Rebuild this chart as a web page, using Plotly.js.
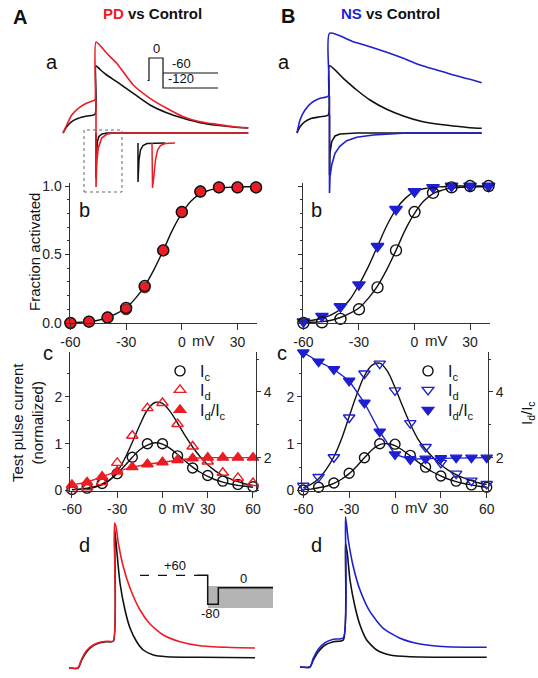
<!DOCTYPE html>
<html><head><meta charset="utf-8">
<script src="https://cdn.plot.ly/plotly-3.0.1.min.js"></script>
<style>html,body{margin:0;padding:0;background:#fff}#chart{width:538px;height:678px}</style>
</head><body><div id="chart"></div>
<script>
// ================= DATA =================
// Panel a (A): tail currents, time (ms, a.u.) and current (a.u.)
const aLCtlT = [0,3.7,8.7,15.3,23.7,32,33,37,43.7,53.7,70.3,87,103.7,120.3,137,153.7,170.3,185.3];
const aLCtlI = [0,6.3,11.3,14.7,17,18.7,67.3,63.5,58,51.3,39.7,28,20.3,14.7,10.3,7.7,6,5];
const aLPdT  = [0,3.7,8.7,15.3,22,30.3,32,33,43.7,53.7,70.3,87,103.7,120.3,137,153.7,170.3,185.3];
const aLPdI  = [0,8,18,24.7,29,32.3,33,91,79.7,69.7,48,34.7,24.7,16.3,11.3,8.7,6.3,5.3];
const aLSpkCtlT = [33,33,33.5,34.5,36,39,44,185.3];
const aLSpkCtlI = [0,-45,-20,-8,-3.5,-1,0,0];
const aLSpkPdT  = [33,33,33.7,35.3,38.7,43.7,50.3,185.3];
const aLSpkPdI  = [33,-54,-30,-15,-5,-1.3,0,0];
const insCtlT = [75,75,76,77.5,80,84,102];
const insCtlI = [-10,-49,-27,-17,-12.5,-10.5,-10];
const insPdT  = [89,89.5,91,92.5,94.5,97.5,102,112];
const insPdI  = [-10,-55,-42,-27,-17,-12.5,-10.5,-10];
const zoomBoxT = [21,59];
const zoomBoxI = [-59,3];
// voltage protocol (A a): time, mV
const protoAT = [2.5,4,4,18,18,73,null,18,73];
const protoAV = [-90,-90,0,0,-120,-120,null,-60,-60];
// Panel a (B)
const aRCtlT = [0,3,8,14.7,23,31.3,32.5,46.3,59.7,73,89.7,106.3,123,139.7,156.3,173,184.7];
const aRCtlI = [0,6.3,11.3,14.7,16.3,18,67.3,54.7,43,33,23.7,17,12,9,7,5.3,4.7];
const aRNsT  = [0,3,8,14.7,23,31.3,32.5,56.3,73,89.7,106.3,123,139.7,156.3,173,184.7];
const aRNsI  = [0,13,23,30.3,34.7,37,99.7,91.3,86.3,80.7,74.7,68,63,58,53.7,50.3];
const aRSpkCtlT = [32.5,32.5,33,34.7,38,43,60,184.7];
const aRSpkCtlI = [18,-42,-20,-8.7,-3,-1,0,0];
const aRSpkNsT  = [32.5,32.5,33,34.7,38,43,49.7,59.7,76.3,93,110,184.7];
const aRSpkNsI  = [37,-60,-43.7,-32,-20.3,-13,-7.7,-4.3,-2,-1,0,0];

// Panel b: fraction activated vs voltage (mV)
const bV = [-60,-50,-40,-30,-20,-10,0,10,20,30,40];
const bCtlL = [0,0.01,0.04,0.11,0.27,0.53,0.81,0.96,0.99,0.99,0.99];
const bPD   = [0,0.01,0.04,0.10,0.26,0.53,0.81,0.96,0.99,0.99,0.99];
const bCtlR = [0,0.005,0.03,0.10,0.26,0.53,0.81,0.95,0.99,1.0,1.0];
const bNS   = [0.01,0.05,0.12,0.28,0.56,0.83,0.96,0.99,1.0,1.0,1.0];
const bFitV = [-60,-55,-50,-45,-40,-35,-30,-25,-20,-15,-10,-5,0,5,10,15,20,25,30,35,40];
const bFitCtl = [0,0.005,0.01,0.02,0.04,0.07,0.11,0.18,0.27,0.39,0.53,0.68,0.80,0.89,0.945,0.97,0.985,0.99,0.993,0.995,0.995];
const bFitNS  = [0.01,0.02,0.035,0.06,0.10,0.17,0.28,0.41,0.56,0.71,0.83,0.91,0.96,0.98,0.99,0.995,1,1,1,1,1];
const bTicks = [-60,-30,0,30];

// Panel c: test pulse current (normalized) and Id/Ic vs voltage (mV)
const cV = [-60,-50,-40,-30,-20,-10,0,10,20,30,40,50,60];
const cIcL = [0.02,0.05,0.15,0.36,0.71,1.0,1.0,0.74,0.48,0.32,0.2,0.13,0.08];
const cIdL = [0.03,0.07,0.18,0.59,1.17,1.76,1.87,1.42,0.94,0.62,0.38,0.27,0.16];
const cRatioL = [1.17,1.25,1.42,1.58,1.71,1.80,1.86,1.93,1.98,2.0,2.0,2.0,2.0];
const cIcR = [0.01,0.07,0.16,0.37,0.70,1.0,0.99,0.75,0.5,0.31,0.2,0.12,0.07];
const cIdR = [0.1,0.29,0.71,1.56,2.5,2.71,2.14,1.44,0.93,0.59,0.36,0.21,0.14];
const cRatioR = [5.2,4.92,4.69,4.34,3.67,2.79,2.1,1.95,1.97,1.98,2.0,2.0,2.0];
const cFitV = [-60,-55,-50,-45,-40,-35,-30,-25,-20,-15,-10,-5,0,5,10,15,20,25,30,35,40,45,50,55,60];
const cFitIcL = [0.02,0.03,0.05,0.08,0.14,0.23,0.36,0.53,0.71,0.87,0.97,1.02,0.99,0.9,0.77,0.63,0.5,0.39,0.3,0.23,0.18,0.14,0.11,0.09,0.07];
const cFitIdL = [0.01,0.02,0.04,0.07,0.12,0.22,0.4,0.68,1.03,1.4,1.72,1.88,1.86,1.69,1.44,1.17,0.93,0.72,0.55,0.42,0.32,0.25,0.19,0.14,0.11];
const cFitIcR = [0.02,0.03,0.06,0.09,0.15,0.24,0.36,0.52,0.7,0.87,0.98,1.0,0.96,0.86,0.74,0.61,0.49,0.39,0.31,0.24,0.19,0.15,0.12,0.09,0.07];
const cFitIdR = [0.06,0.13,0.25,0.45,0.72,1.1,1.58,2.05,2.45,2.68,2.72,2.55,2.2,1.8,1.42,1.1,0.88,0.7,0.55,0.43,0.34,0.27,0.21,0.16,0.13];
const cTicks = [-60,-30,0,30,60];
const legendNames = ['I<sub>c</sub>','I<sub>d</sub>','I<sub>d</sub>/I<sub>c</sub>'];

// Panel d: currents (a.u.)
const dLCtlT = [0,9,12.7,17.7,24.3,31,37.7,44.3,45.5,47.7,51,56,61,67.7,74.3,84.3,97.7,131,186];
const dLCtlI = [0,0,8,16.3,22.3,25.3,26.3,26.7,140,118,85,58,40,26.3,18,13,11.3,10.7,10.3];
const dLPdT  = [0,9,12.7,17.7,24.3,31,37.7,44.3,45.5,47,49.3,54.3,61,71,81,94.3,111,131,157.7,186];
const dLPdI  = [0,0,9,17.5,23,25.7,26.7,27,145,141.3,125,101.3,80,58,44,33,26.3,22.3,20.7,20];
const dRCtlT = [0,10,13.3,18.3,25,33.3,43.3,45.5,47.3,50,55,60,66.7,76.7,90,110,186.7];
const dRCtlI = [0,0,7,15.3,22,25.3,27,124,113.7,87,60.3,42,27,17,12,10.3,9.7];
const dRNsT  = [0,10,13.3,18.3,25,33.3,43.3,45.5,48.3,53.3,60,70,83.3,100,120,146.7,186.7];
const dRNsI  = [0,0,8.7,17.7,24.3,27.7,29.3,150.3,127,100.3,77,55.3,38.7,28.7,23,20.3,19.7];
// voltage protocol (d): time, mV
const protoDDashT = [5,62];
const protoDDashV = [60,60];
const protoDT = [62,72.7,72.7,83.3,83.3,138];
const protoDV = [60,60,-80,-80,0,0];
const shadeDT = [73,138];
const shadeDV = [-98,8];

// ================= STYLE / LAYOUT =================
const W = 538, H = 678;
const FONT = 'Liberation Sans, Arial, Helvetica, sans-serif';
const RED = '#ec1c24', BLUE = '#1f1fd2', BLK = '#111111', AX = '#333333';
const xd = (a,b) => [a/W, b/W];
const yd = (top,bot) => [1-bot/H, 1-top/H];

function ln(x,y,xa,ya,color,w,extra){
  return Object.assign({type:'scatter',mode:'lines',x:x,y:y,xaxis:xa,yaxis:ya,
    line:{color:color,width:w||1.6,shape:'spline',smoothing:0.6},hoverinfo:'skip',showlegend:false},extra||{});
}
function mk(x,y,xa,ya,symbol,color,size,extra){
  return Object.assign({type:'scatter',mode:'markers',x:x,y:y,xaxis:xa,yaxis:ya,cliponaxis:false,
    marker:{symbol:symbol,color:color,size:size||10,line:{color:color,width:1.4}},hoverinfo:'skip',showlegend:false},extra||{});
}
const lin = (c,w) => ({color:c,width:w,shape:'linear'});
const smooth = (c,w) => ({color:c,width:w,shape:'spline',smoothing:1});

const traces = [];
// ---- A a
traces.push(ln(aLCtlT,aLCtlI,'x','y',BLK,1.6));
traces.push(ln(aLSpkCtlT,aLSpkCtlI,'x','y',BLK,1.6,{line:lin(BLK,1.6)}));
traces.push(ln(aLPdT,aLPdI,'x','y',RED,1.6));
traces.push(ln(aLSpkPdT,aLSpkPdI,'x','y',RED,1.6,{line:lin(RED,1.6)}));
traces.push(ln(insCtlT,insCtlI,'x','y',BLK,1.5,{line:lin(BLK,1.5)}));
traces.push(ln(insPdT,insPdI,'x','y',RED,1.5,{line:lin(RED,1.5)}));
traces.push(ln(protoAT,protoAV,'x2','y2',BLK,1.2,{line:lin(BLK,1.2),connectgaps:false}));
// ---- B a
traces.push(ln(aRCtlT,aRCtlI,'x3','y3',BLK,1.6));
traces.push(ln(aRSpkCtlT,aRSpkCtlI,'x3','y3',BLK,1.6,{line:lin(BLK,1.6)}));
traces.push(ln(aRNsT,aRNsI,'x3','y3',BLUE,1.6));
traces.push(ln(aRSpkNsT,aRSpkNsI,'x3','y3',BLUE,1.6,{line:lin(BLUE,1.6)}));
// ---- A b
traces.push(ln(bFitV,bFitCtl,'x4','y4',BLK,1.4,{line:smooth(BLK,1.4)}));
traces.push(mk(bV,bPD,'x4','y4','circle',RED,11,{marker:{symbol:'circle',color:RED,size:11,line:{color:'#333',width:1}}}));
traces.push(mk(bV,bCtlL,'x4','y4','circle-open',BLK,11));
// ---- B b
traces.push(ln(bFitV,bFitCtl,'x5','y5',BLK,1.4,{line:smooth(BLK,1.4)}));
traces.push(ln(bFitV,bFitNS,'x5','y5',BLK,1.4,{line:smooth(BLK,1.4)}));
traces.push(mk(bV,bNS,'x5','y5','triangle-down',BLUE,11));
traces.push(mk(bV,bCtlR,'x5','y5','circle-open',BLK,11));
// ---- A c
traces.push(ln(cFitV,cFitIcL,'x6','y6',BLK,1.4,{line:smooth(BLK,1.4)}));
traces.push(ln(cFitV,cFitIdL,'x6','y6',BLK,1.4,{line:smooth(BLK,1.4)}));
traces.push(mk(cV,cIcL,'x6','y6','circle-open',BLK,10,{showlegend:true,name:legendNames[0],legend:'legend'}));
traces.push(mk(cV,cIdL,'x6','y6','triangle-up-open',RED,10,{showlegend:true,name:legendNames[1],legend:'legend2'}));
traces.push(ln(cV,cRatioL,'x6','y7',RED,1.4,{line:lin(RED,1.4)}));
traces.push(mk(cV,cRatioL,'x6','y7','triangle-up',RED,10,{showlegend:true,name:legendNames[2],legend:'legend3'}));
// ---- B c
traces.push(ln(cFitV,cFitIcR,'x8','y8',BLK,1.4,{line:smooth(BLK,1.4)}));
traces.push(ln(cFitV,cFitIdR,'x8','y8',BLK,1.4,{line:smooth(BLK,1.4)}));
traces.push(mk(cV,cIcR,'x8','y8','circle-open',BLK,10,{showlegend:true,name:legendNames[0],legend:'legend4'}));
traces.push(mk(cV,cIdR,'x8','y8','triangle-down-open',BLUE,10,{showlegend:true,name:legendNames[1],legend:'legend5'}));
traces.push(ln(cV,cRatioR,'x8','y9',BLUE,1.4,{line:lin(BLUE,1.4)}));
traces.push(mk(cV,cRatioR,'x8','y9','triangle-down',BLUE,10,{showlegend:true,name:legendNames[2],legend:'legend6'}));
// ---- A d
traces.push(ln(dLCtlT,dLCtlI,'x10','y10',BLK,1.6));
traces.push(ln(dLPdT,dLPdI,'x10','y10',RED,1.6));
traces.push({type:'scatter',mode:'lines',xaxis:'x11',yaxis:'y11',
  x:[shadeDT[0],shadeDT[1],shadeDT[1],shadeDT[0],shadeDT[0]],
  y:[shadeDV[0],shadeDV[0],shadeDV[1],shadeDV[1],shadeDV[0]],
  fill:'toself',fillcolor:'#b4b4b4',line:{width:0,color:'rgba(0,0,0,0)'},hoverinfo:'skip',showlegend:false});
traces.push(ln(protoDDashT,protoDDashV,'x11','y11',BLK,1.3,{line:{color:BLK,width:1.3,dash:'dash',shape:'linear'}}));
traces.push(ln(protoDT,protoDV,'x11','y11',BLK,1.5,{line:lin(BLK,1.5)}));
// ---- B d
traces.push(ln(dRCtlT,dRCtlI,'x12','y12',BLK,1.6));
traces.push(ln(dRNsT,dRNsI,'x12','y12',BLUE,1.6));

const hid = (dom,rng,anchor) => ({domain:dom,range:rng,visible:false,showticklabels:false,ticks:'',fixedrange:true,anchor:anchor,showgrid:false,zeroline:false});
const tf = {family:FONT,size:14,color:'#222'};
function vx(dom,rng,anchor,tickvals){
  return {domain:dom,range:rng,anchor:anchor,showline:true,linecolor:AX,linewidth:1,ticks:'outside',ticklen:6,
    tickcolor:AX,tickfont:tf,tickmode:'array',tickvals:tickvals,ticktext:tickvals.map(String),zeroline:false,showgrid:false,
    fixedrange:true};
}
function vy(dom,rng,anchor,tickvals,ticktext,showlabels,minorDt){
  return {domain:dom,range:rng,anchor:anchor,showline:true,linecolor:AX,linewidth:1,ticks:'outside',ticklen:4,
    tickcolor:AX,tickfont:tf,tickmode:'array',tickvals:tickvals,ticktext:ticktext,showticklabels:showlabels,zeroline:false,showgrid:false,
    fixedrange:true,minor:{dtick:minorDt,ticks:'outside',ticklen:2,tickcolor:AX}};
}
function leg(xSym,yCenter){
  return {x:(xSym-20)/W,y:1-(yCenter-19)/H,xanchor:'left',yanchor:'top',bgcolor:'rgba(0,0,0,0)',borderwidth:0,
    font:{family:FONT,size:16,color:'#111'},itemwidth:30,itemclick:false,itemdoubleclick:false};
}

const layout = {
  width:W,height:H,margin:{l:0,r:0,t:0,b:0},paper_bgcolor:'#fff',plot_bgcolor:'rgba(0,0,0,0)',
  font:{family:FONT,color:'#111',size:14},showlegend:true,
  xaxis:hid(xd(55,255),[-8,192],'y'), yaxis:hid(yd(28,200),[-67,105],'x'),
  xaxis2:hid(xd(145,220),[0,75],'y2'), yaxis2:hid(yd(40,95),[-148,72],'x2'),
  xaxis3:hid(xd(285,490),[-12,193],'y3'), yaxis3:hid(yd(25,200),[-67,108],'x3'),
  xaxis4:vx(xd(69.5,257),[-60.5,40.5],'y4',bTicks),
  yaxis4:vy(yd(183.3,323),[0,1.02],'x4',[0,0.5,1],['0.0','0.5','1.0'],true,0.1),
  xaxis5:vx(xd(302.5,489.5),[-60.5,40.5],'y5',bTicks),
  yaxis5:vy(yd(183.3,323),[0,1.02],'x5',[0,0.5,1],['0.0','0.5','1.0'],false,0.1),
  xaxis6:vx(xd(70,256),[-61.3,62],'y6',cTicks),
  yaxis6:vy(yd(351.5,490.5),[0,2.97],'x6',[0,1,2],['0','1','2'],true,0.5),
  yaxis7:Object.assign(vy(yd(351.5,490.5),[1,5.23],'x6',[2,4],['2','4'],true,1),{overlaying:'y6',side:'right'}),
  xaxis8:vx(xd(302,488),[-60.85,60.85],'y8',cTicks),
  yaxis8:vy(yd(351.5,490.5),[0,2.97],'x8',[0,1,2],['0','1','2'],true,0.5),
  yaxis9:Object.assign(vy(yd(351.5,490.5),[1,5.23],'x8',[2,4],['2','4'],true,1),{overlaying:'y8',side:'right'}),
  xaxis10:hid(xd(60,262),[-9,193],'y10'), yaxis10:hid(yd(515,672),[-4,153],'x10'),
  xaxis11:hid(xd(135,275),[0,140],'y11'), yaxis11:hid(yd(555,620),[-156,158],'x11'),
  xaxis12:hid(xd(290,492),[-10,192],'y12'), yaxis12:hid(yd(510,672),[-5,157],'x12'),
  legend:leg(180,373), legend2:leg(180,392), legend3:leg(180,412),
  legend4:leg(428,373), legend5:leg(428,392), legend6:leg(428,412),
  shapes:[{type:'rect',xref:'x',yref:'y',x0:zoomBoxT[0],x1:zoomBoxT[1],y0:zoomBoxI[0],y1:zoomBoxI[1],
    line:{color:'#666',width:1,dash:'dot'}}],
  annotations:[]
};

function ann(text,x,y,size,extra){
  return Object.assign({text:text,x:x/W,y:1-y/H,xref:'paper',yref:'paper',showarrow:false,
    xanchor:'center',yanchor:'middle',font:{family:FONT,size:size,color:'#111'}},extra||{});
}
const A = layout.annotations;
A.push(ann('<b>A</b>',19.5,17,20));
A.push(ann('<b>B</b>',287.5,16,20));
A.push(ann('<b><span style="color:'+RED+'">PD</span> vs Control</b>',152,14,15));
A.push(ann('<b><span style="color:'+BLUE+'">NS</span> vs Control</b>',390,14,15));
A.push(ann('a',52,62,20)); A.push(ann('a',284,62,20));
A.push(ann('b',84,210,20)); A.push(ann('b',316,210,20));
A.push(ann('c',48,353,20)); A.push(ann('c',282,353,20));
A.push(ann('d',84,545,20)); A.push(ann('d',316,545,20));
A.push(ann('Fraction activated',34,252,15,{textangle:-90}));
A.push(ann('Test pulse current<br>(normalized)',27,423,15,{textangle:-90}));
A.push(ann('I<sub>d</sub>/I<sub>c</sub>',527,413,15,{textangle:-90}));
// "mV" units next to the 0 tick labels
[['x4',340],['x5',340],['x6',507],['x8',507]].forEach(function(p){
  A.push({text:'mV',x:0,xref:p[0],y:1-p[1]/H,yref:'paper',xanchor:'left',yanchor:'middle',xshift:8,
    showarrow:false,font:{family:FONT,size:15,color:'#222'}});
});
// protocol labels
const pf = {family:FONT,size:13,color:'#111'};
A.push({text:'0',x:11,y:0,xref:'x2',yref:'y2',xanchor:'center',yanchor:'bottom',showarrow:false,font:pf});
A.push({text:'-60',x:36,y:-60,xref:'x2',yref:'y2',xanchor:'center',yanchor:'bottom',showarrow:false,font:pf});
A.push({text:'-120',x:36,y:-120,xref:'x2',yref:'y2',xanchor:'center',yanchor:'bottom',showarrow:false,font:pf});
A.push({text:'+60',x:40,y:60,xref:'x11',yref:'y11',xanchor:'center',yanchor:'bottom',showarrow:false,font:pf});
A.push({text:'-80',x:75,y:-80,xref:'x11',yref:'y11',xanchor:'center',yanchor:'top',showarrow:false,font:pf});
A.push({text:'0',x:108,y:0,xref:'x11',yref:'y11',xanchor:'center',yanchor:'bottom',showarrow:false,font:pf});

Plotly.newPlot('chart',traces,layout,{staticPlot:true,displayModeBar:false}).then(function(){
  document.querySelectorAll('#chart svg text').forEach(function(t){
    if(!t.textContent || !t.textContent.trim()) t.parentNode.removeChild(t);
  });
});
</script></body></html>
